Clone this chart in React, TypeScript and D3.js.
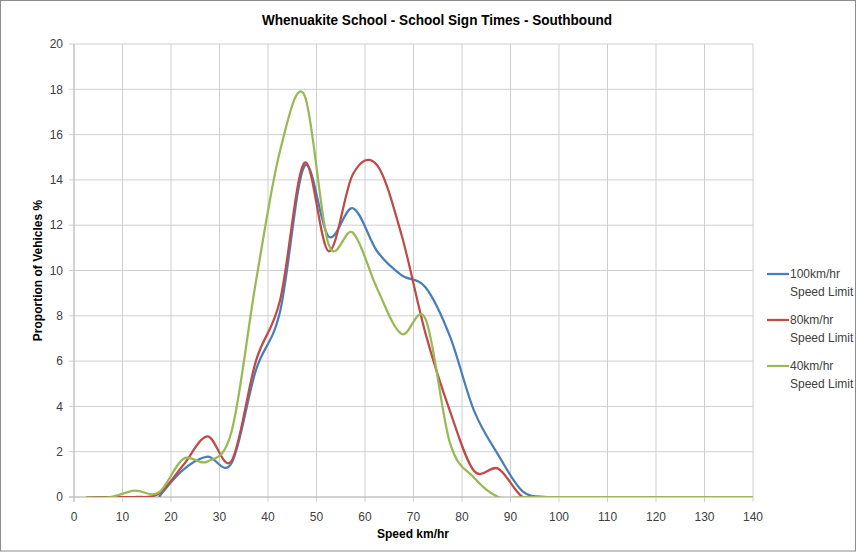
import React from "react";
import * as d3 from "d3";

const speeds = [2.5, 7.5, 12.5, 17.5, 22.5, 27.5, 32.5, 37.5, 42.5, 47.5, 52.5, 57.5, 62.5, 67.5, 72.5, 77.5, 82.5, 87.5, 92.5, 97.5, 102.5, 107.5, 112.5, 117.5, 122.5, 127.5, 132.5, 137.5, 142.5];
const limit100 = [null, null, null, 0, 1.2, 1.78, 1.5, 5.6, 8.2, 14.6, 11.5, 12.75, 10.85, 9.8, 9.25, 7.1, 3.8, 1.85, 0.25, 0, 0, 0, 0, 0, 0, 0, 0, 0, 0];
const limit80 = [0, 0, 0, 0.15, 1.4, 2.68, 1.6, 6.0, 8.7, 14.75, 10.85, 14.25, 14.65, 11.6, 7.2, 3.8, 1.15, 1.25, 0, 0, 0, 0, 0, 0, 0, 0, 0, 0, 0];
const limit40 = [0, 0, 0.28, 0.2, 1.68, 1.57, 2.9, 9.5, 15.3, 17.75, 11.15, 11.67, 9.2, 7.2, 7.85, 2.4, 0.85, 0, 0, 0, 0, 0, 0, 0, 0, 0, 0, 0, 0];
const seriesNames = [["100km/hr", "Speed Limit"], ["80km/hr", "Speed Limit"], ["40km/hr", "Speed Limit"]];
const seriesColors = ["#4a7ebb", "#be4b48", "#98b954"];
const xTicks = [0, 10, 20, 30, 40, 50, 60, 70, 80, 90, 100, 110, 120, 130, 140];
const yTicks = [0, 2, 4, 6, 8, 10, 12, 14, 16, 18, 20];
const title = "Whenuakite School - School Sign Times - Southbound";
const xTitle = "Speed km/hr";
const yTitle = "Proportion of Vehicles %";

export default function App() {
  const W = 857, H = 552;
  const L = 74, R = 753, T = 44, B = 497;
  const x = d3.scaleLinear().domain([0, 140]).range([L, R]);
  const y = d3.scaleLinear().domain([0, 20]).range([B, T]);
  const font = "'Liberation Sans', Arial, sans-serif";
  const allSeries = [limit100, limit80, limit40];
  const line = d3
    .line<[number, number]>()
    .x((d) => x(d[0]))
    .y((d) => y(d[1]))
    .curve(d3.curveCardinal.tension(0));
  const legendY = [274, 320, 366];
  return (
    <svg width={W} height={H} style={{ position: "absolute", left: 0, top: 0, background: "#fff" }} fontFamily={font}>
      <defs>
        <clipPath id="plotClip">
          <rect x={L} y={T - 2} width={R - L} height={B - T + 2} />
        </clipPath>
      </defs>
      <rect x={0.5} y={0.5} width={W - 2} height={H - 1.5} fill="#fff" stroke="#8c8c8c" />
      <text x={437} y={25} textAnchor="middle" fontSize={14} fontWeight="bold" fill="#000" textLength={350} lengthAdjust="spacingAndGlyphs">{title}</text>
      {yTicks.map((t) => (
        <g key={"y" + t}>
          <line x1={L - 5} x2={R} y1={y(t)} y2={y(t)} stroke="#cfcfcf" strokeWidth={1} />
          <text x={L - 11} y={y(t)} dy="0.35em" textAnchor="end" fontSize={12} fill="#404040">{t}</text>
        </g>
      ))}
      {xTicks.map((t) => (
        <g key={"x" + t}>
          <line x1={x(t)} x2={x(t)} y1={T} y2={B + 5} stroke="#cfcfcf" strokeWidth={1} />
          <text x={x(t)} y={521} textAnchor="middle" fontSize={12} fill="#404040">{t}</text>
        </g>
      ))}
      <line x1={L} x2={L} y1={T} y2={B + 5} stroke="#bdbdbd" />
      <line x1={L - 5} x2={R} y1={B} y2={B} stroke="#bdbdbd" />
      <g clipPath="url(#plotClip)">
        {allSeries.map((vals, i) => {
          const pts = speeds
            .map((s, j) => [s, vals[j]] as [number, number | null])
            .filter((p) => p[1] !== null) as [number, number][];
          return <path key={i} d={line(pts) || ""} fill="none" stroke={seriesColors[i]} strokeWidth={2.25} strokeLinejoin="round" />;
        })}
      </g>
      <text x={413} y={538} textAnchor="middle" fontSize={12} fontWeight="bold" fill="#000">{xTitle}</text>
      <text transform={`translate(42,${(T + B) / 2}) rotate(-90)`} textAnchor="middle" fontSize={12} fontWeight="bold" fill="#000">{yTitle}</text>
      {seriesNames.map((nm, i) => (
        <g key={"lg" + i}>
          <line x1={767} x2={789} y1={legendY[i]} y2={legendY[i]} stroke={seriesColors[i]} strokeWidth={2.25} />
          <text x={790} y={legendY[i]} dy="0.35em" fontSize={12} fill="#404040">{nm[0]}</text>
          <text x={790} y={legendY[i] + 18} dy="0.35em" fontSize={12} fill="#404040">{nm[1]}</text>
        </g>
      ))}
    </svg>
  );
}
